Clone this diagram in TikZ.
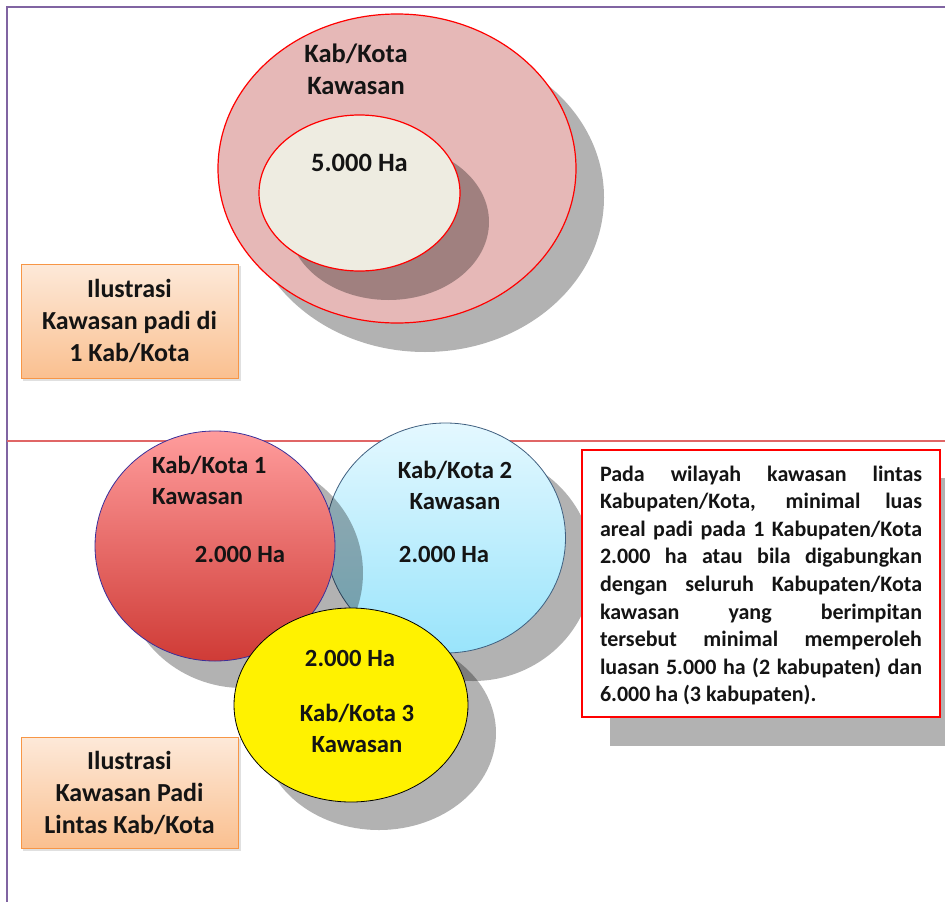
\documentclass[tikz,border=0pt]{standalone}
\usepackage{fontspec}
\setmainfont{Carlito}
\definecolor{borderpurple}{HTML}{8064A2}
\definecolor{sepred}{HTML}{E06666}
\definecolor{pinkfill}{HTML}{E6B8B7}
\definecolor{creamfill}{HTML}{EEECE1}
\definecolor{orangeline}{HTML}{F79646}
\definecolor{orangetop}{HTML}{FDE9D9}
\definecolor{orangebot}{HTML}{FAC090}
\definecolor{redtop}{HTML}{FF9C9C}
\definecolor{redbot}{HTML}{CF3B36}
\definecolor{bluetop}{HTML}{E4F8FF}
\definecolor{bluebot}{HTML}{99E4FB}
\definecolor{blueline}{HTML}{3F5F7F}
\definecolor{redline}{HTML}{3A2F9A}
\definecolor{txt}{HTML}{141414}
\tikzset{
  shadowfill/.style={fill=black, opacity=0.3},
  obox/.style={draw=orangeline, line width=1, top color=orangetop, bottom color=orangebot,
     minimum width=217pt, minimum height=114pt, align=center, inner sep=0pt,
     font=\fontsize{26}{32}\selectfont\bfseries, text=txt},
  lbl/.style={font=\fontsize{24.7}{31}\selectfont\bfseries, text=txt, inner sep=0pt, align=center},
  lbll/.style={lbl, align=left, anchor=west},
  toplbl/.style={lbl, font=\fontsize{26.5}{32}\selectfont\bfseries},
}
\begin{document}
\begin{tikzpicture}[x=1pt,y=-1pt]
\useasboundingbox (0,0) rectangle (945,902);
% frame
\draw[borderpurple, line width=2.5] (945,7) -- (7,7) -- (7,902);
\draw[sepred, line width=1.2] (7,441) -- (945,441);

% top ellipses
\fill[shadowfill] (425,197.5) ellipse [x radius=179, y radius=154.5];
\filldraw[fill=pinkfill, draw=red, line width=1.2] (397,168.5) ellipse [x radius=179, y radius=154.5];
\fill[shadowfill] (388.5,222) ellipse [x radius=100.5, y radius=78];
\filldraw[fill=creamfill, draw=red, line width=1.2] (359.5,193) ellipse [x radius=100.5, y radius=78];
\node[toplbl] (kk) at (356,69) {Kab/Kota\\Kawasan};
\node[toplbl] (h5) at (359.5,163) {5.000 Ha};

% orange box 1
\fill[black, opacity=0.12] (23,266) rectangle (241,381);
\node[obox] (b1) at (129.5,321) {Ilustrasi\\Kawasan padi di\\1 Kab/Kota};

% bottom circles
\fill[shadowfill] (473,566) ellipse [x radius=120, y radius=115];
\shade[top color=bluetop, bottom color=bluebot, draw=blueline, line width=0.8] (445.5,538) ellipse [x radius=120, y radius=115];
\fill[shadowfill] (243,573) ellipse [x radius=120, y radius=115];
\shade[top color=redtop, bottom color=redbot, draw=redline, line width=0.8] (215,546) ellipse [x radius=120, y radius=115];
\fill[shadowfill] (379,733) ellipse [x radius=117, y radius=97];
\filldraw[fill=yellow, draw=black, line width=0.8] (351,705) ellipse [x radius=117, y radius=97];

\node[lbll] (k1) at (152,480) {Kab/Kota 1\\Kawasan};
\node[lbl] (h1) at (240,554) {2.000 Ha};
\node[lbl] (k2) at (455,485) {Kab/Kota 2\\Kawasan};
\node[lbl] (h2) at (444,554) {2.000 Ha};
\node[lbl] (h3) at (350,658) {2.000 Ha};
\node[lbl] (k3) at (357,728) {Kab/Kota 3\\Kawasan};

% orange box 2
\fill[black, opacity=0.12] (23,739) rectangle (241,851);
\node[obox, minimum height=111pt] (b2) at (129.5,792.5) {Ilustrasi\\Kawasan Padi\\Lintas Kab/Kota};

% text box
\fill[black!30] (610,478) rectangle (945,746);
\node[draw=red, line width=2.5, fill=white, minimum width=358pt, minimum height=267pt, inner sep=0pt] (tb) at (761,583.5) {};
\node[font=\fontsize{22}{27.6}\selectfont\bfseries, text=txt, align=left, inner sep=0pt] (tt) at (761,585.5) {%
\makebox[322pt][s]{Pada wilayah kawasan lintas}\\
\makebox[322pt][s]{Kabupaten/Kota, minimal luas}\\
\makebox[322pt][s]{areal padi pada 1 Kabupaten/Kota}\\
\makebox[322pt][s]{2.000 ha atau bila digabungkan}\\
\makebox[322pt][s]{dengan seluruh Kabupaten/Kota}\\
\makebox[322pt][s]{kawasan yang berimpitan}\\
\makebox[322pt][s]{tersebut minimal memperoleh}\\
\makebox[322pt][s]{luasan 5.000 ha (2 kabupaten) dan}\\
\makebox[322pt][l]{6.000 ha (3 kabupaten).}};
\end{tikzpicture}
\end{document}
